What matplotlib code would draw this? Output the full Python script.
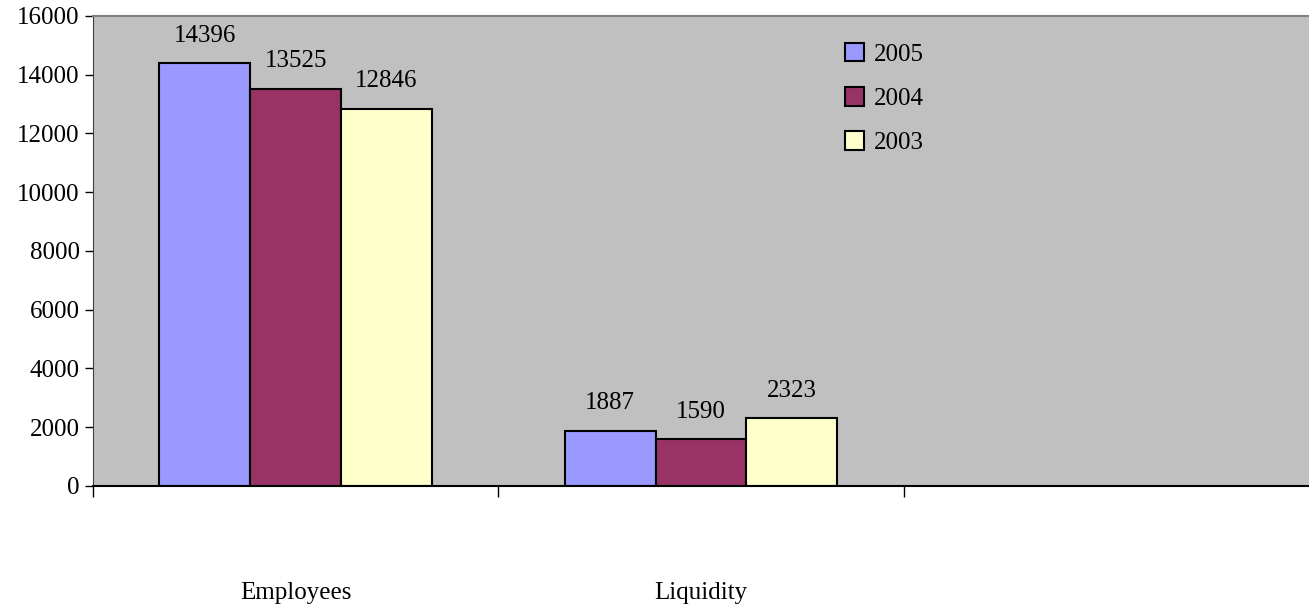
import matplotlib
matplotlib.use("Agg")
import matplotlib.pyplot as plt
import numpy as np

categorias = ["Employees", "Liquidity"]
anos = ["2005", "2004", "2003"]
valores2005 = [14396, 1887]
valores2004 = [13525, 1590]
valores2003 = [12846, 2323]
cores = ["#9999FF", "#993366", "#FFFFCC"]

plt.rcParams['font.family'] = ['Liberation Serif', 'DejaVu Serif']

fig = plt.figure(figsize=(13.09, 6.05), dpi=100)
ax = fig.add_axes([0.071, 0.1967, 0.929, 0.777])
ax.set_facecolor("#C0C0C0")

x = np.arange(len(categorias))
largura = 0.224
series = [valores2005, valores2004, valores2003]
for i, (serie, ano, cor) in enumerate(zip(series, anos, cores)):
    pos = x + (i - 1) * largura
    barras = ax.bar(pos, serie, largura, color=cor, edgecolor="black",
                    linewidth=1.5, label=ano, zorder=2)
    for b, v in zip(barras, serie):
        ax.text(b.get_x() + b.get_width() / 2, v + 550, str(v),
                ha="center", va="bottom", fontsize=18)

ax.set_xlim(-0.5, 2.5)
ax.set_ylim(0, 16000)
ax.set_yticks(np.arange(0, 16001, 2000))
ax.tick_params(axis="y", labelsize=18, direction="out", length=6, width=1)

ax.set_xticks([-0.5, 0.5, 1.5])
ax.set_xticklabels([])
ax.tick_params(axis="x", which="major", direction="out", length=8, width=1)
ax.set_xticks(x, minor=True)
ax.set_xticklabels(categorias, minor=True)
ax.tick_params(axis="x", which="minor", length=0, pad=69, labelsize=18)

ax.spines["right"].set_visible(False)
ax.spines["top"].set_color("#808080")
ax.spines["top"].set_linewidth(1.5)
ax.spines["left"].set_color("#404040")
ax.spines["bottom"].set_color("black")
ax.spines["bottom"].set_linewidth(1.5)

ax.legend(loc="upper left", bbox_to_anchor=(0.6, 0.99), frameon=False,
          fontsize=18, handlelength=0.75, handleheight=0.75, labelspacing=0.85,
          handletextpad=0.4)

plt.savefig("out.png", dpi=100)
